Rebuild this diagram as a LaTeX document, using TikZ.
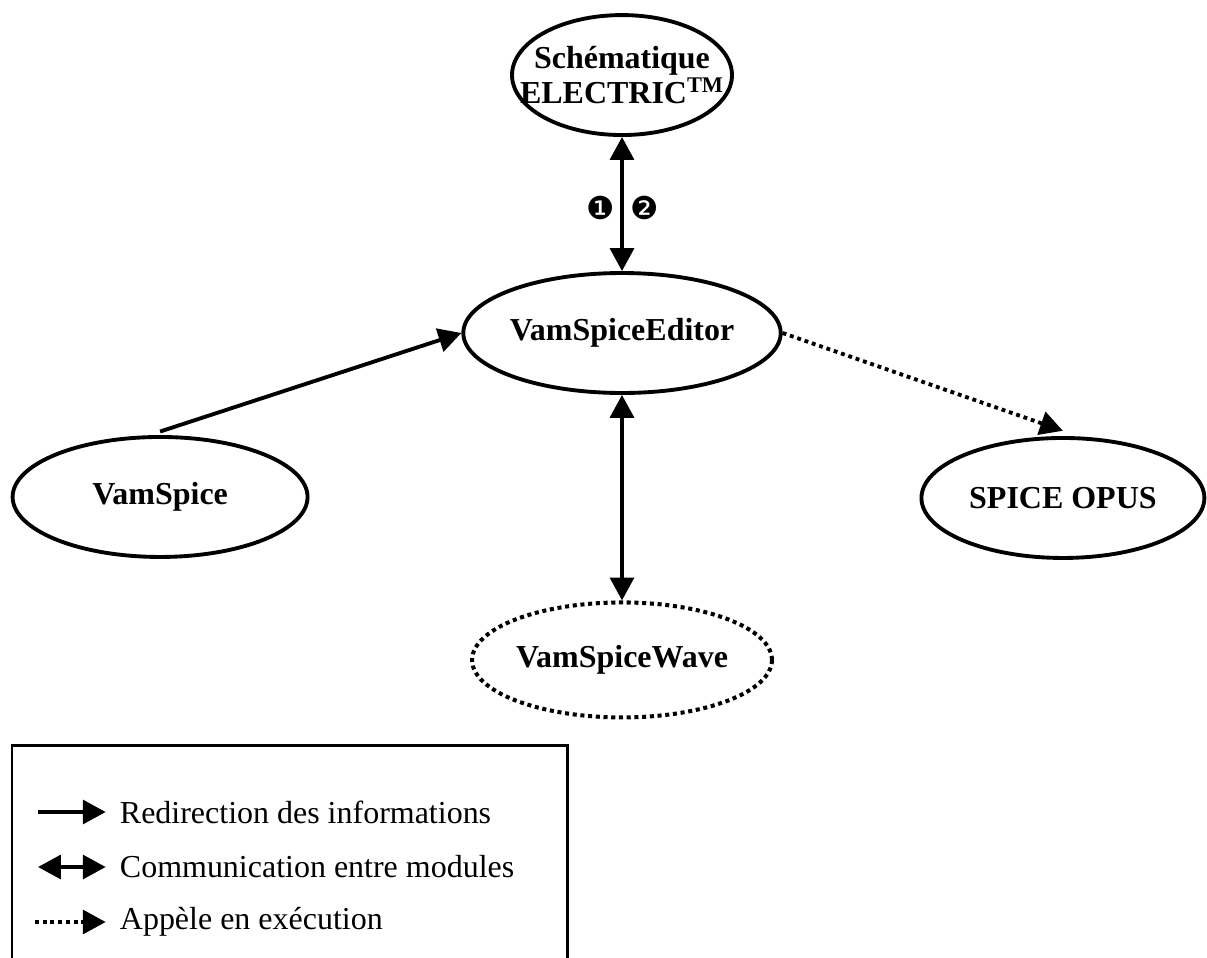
\documentclass[tikz,border=0pt]{standalone}
\usepackage{fontspec}
\setmainfont{Liberation Serif}
\newfontfamily\dingfont{DejaVu Sans}
\usetikzlibrary{positioning,shapes.geometric,arrows.meta}

\begin{document}
\begin{tikzpicture}[x=0.02cm, y=-0.02cm, on grid, line width=2.2pt,
  >={Triangle[length=13pt,width=13.5pt]},
  module/.style = {draw, ellipse, inner sep=0pt, minimum width=5.9cm, minimum height=2.4cm, align=center, font=\fontsize{18.2}{17.6}\selectfont\bfseries},
  extmod/.style = {module, line width=2.3pt, dash pattern=on 2.3pt off 2.1pt},
  call/.style = {->, dash pattern=on 2.2pt off 2.2pt},
  legtext/.style = {anchor=west, inner sep=0pt, font=\fontsize{18.2}{22}\selectfont},
  num/.style = {inner sep=0pt, font=\dingfont\fontsize{18}{18}\selectfont}]
\useasboundingbox (0,0) rectangle (1207,957);
\node[module] (editor) at (622,333) {VamSpiceEditor};
\node[module, minimum width=4.4cm, inner xsep=-0.5cm] (schem) [above=5.16cm of editor] {Schématique\\ELECTRIC\textsuperscript{TM}};
\node[module] (vamspice) [below left=3.28cm and 9.24cm of editor] {VamSpice};
\node[module, minimum width=5.66cm] (spice) [below right=3.3cm and 8.82cm of editor] {SPICE OPUS};
\node[extmod, minimum height=2.3cm] (wave) [below=6.54cm of editor] {VamSpiceWave};
\node[num] (one) at (601,208) {❶};
\node[num] (two) at (645,208) {❷};
\draw[<->] (schem) -- (editor);
\draw[->] ([yshift=2pt]vamspice.north) -- (editor.west);
\draw[call] (editor.east) -- ([yshift=3pt]spice.north);
\draw[<->] (editor) -- (wave);

% legende
\draw[line width=1.7pt] (12,975) -- (12,745) -- (567,745) -- (567,975);
\node[legtext] (leg1) at (118,812) {Redirection des informations};
\node[legtext] (leg2) at (118,867) {Communication entre modules};
\node[legtext] (leg3) at (118,922) {Appèle en exécution};
\coordinate (a1) at (38,812);
\coordinate (a2) at (38,867);
\coordinate (a3) at (35,922);
\draw[->] (a1) -- ([xshift=-7pt]leg1.west);
\draw[<->] (a2) -- ([xshift=-7pt]leg2.west);
\draw[call] (a3) -- ([xshift=-7pt]leg3.west);
\end{tikzpicture}
\end{document}
